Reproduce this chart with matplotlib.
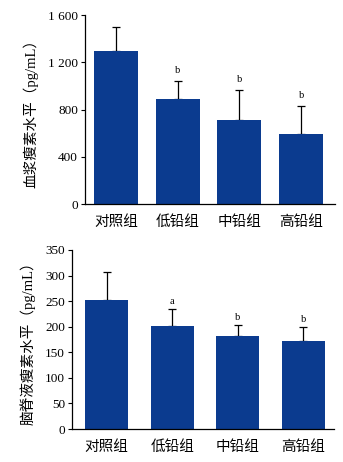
import matplotlib
matplotlib.use("Agg")
import matplotlib.pyplot as plt
import numpy as np

plt.rcParams['font.family'] = ['Noto Sans CJK SC', 'DejaVu Sans']

groups = ["对照组", "低铅组", "中铅组", "高铅组"]

plasma_mean = [1295, 889, 711, 590]
plasma_sd = [206, 150, 254, 240]
plasma_marks = ["", "b", "b", "b"]
plasma_ticks = [0, 400, 800, 1200, 1600]
plasma_ticklabels = ["0", "400", "800", "1 200", "1 600"]

csf_mean = [252, 201, 182, 172]
csf_sd = [54, 34, 21, 27]
csf_marks = ["", "a", "b", "b"]
csf_ticks = [0, 50, 100, 150, 200, 250, 300, 350]

bar_color = "#0b3b8f"
serif = "Liberation Serif"
label_family = ["Liberation Serif", "Noto Sans CJK SC"]

fig = plt.figure(figsize=(3.43, 4.62), dpi=100)


def draw_panel(ax, means, sds, marks, ticks, ticklabels, ylabel, width, xlim, ymax, mark_pad):
    x = np.arange(len(groups))
    ax.bar(x, means, width=width, color=bar_color, zorder=2)
    ax.errorbar(x, means, yerr=[np.zeros(len(sds)), sds], fmt="none",
                ecolor="black", elinewidth=0.9, capsize=3, capthick=0.9, zorder=1)
    for xi, m, s, t in zip(x, means, sds, marks):
        if t:
            ax.text(xi, m + s + mark_pad, t, ha="center", va="bottom",
                    fontsize=7.5, family=serif)
    ax.set_xlim(*xlim)
    ax.set_ylim(0, ymax)
    ax.set_xticks(x)
    ax.set_xticklabels(groups, fontsize=10.5)
    ax.tick_params(axis="x", length=0, pad=8)
    ax.set_yticks(ticks)
    ax.set_yticklabels(ticklabels, fontsize=9.5, family=serif)
    ax.tick_params(axis="y", length=3, width=0.8, direction="out", pad=2)
    for side in ("top", "right"):
        ax.spines[side].set_visible(False)
    for side in ("left", "bottom"):
        ax.spines[side].set_linewidth(0.9)
    ax.set_ylabel(ylabel, fontsize=10.5, labelpad=7, family=label_family)


ax1 = fig.add_axes([0.248, 0.5584, 0.729, 0.4091])
draw_panel(ax1, plasma_mean, plasma_sd, plasma_marks, plasma_ticks, plasma_ticklabels,
           "血浆瘦素水平（pg/mL）", 0.71, (-0.5, 3.55), 1600, 50)

ax2 = fig.add_axes([0.21, 0.0714, 0.764, 0.3875])
draw_panel(ax2, csf_mean, csf_sd, csf_marks, csf_ticks, [str(t) for t in csf_ticks],
           "脑脊液瘦素水平（pg/mL）", 0.66, (-0.53, 3.47), 350, 6)

fig.savefig("out.png", dpi=100)
